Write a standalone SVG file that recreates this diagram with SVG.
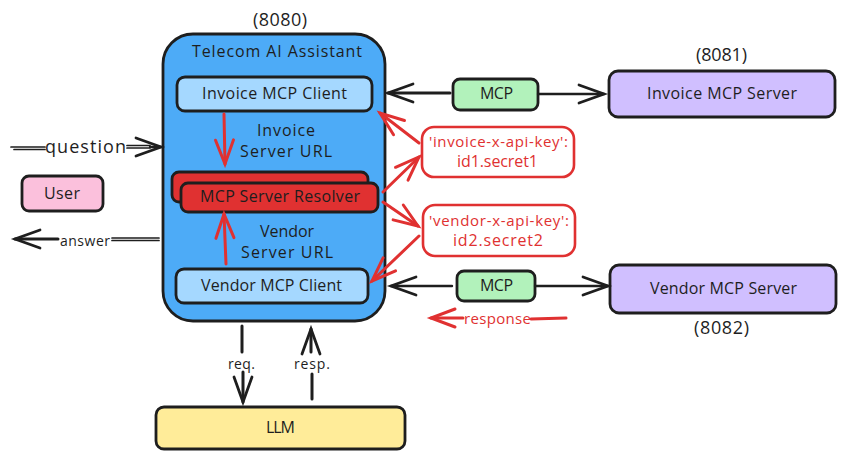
<svg xmlns="http://www.w3.org/2000/svg" width="846" height="458" viewBox="0 0 846 458">
<style>
text{font-family:"Open Sans","Liberation Sans",sans-serif;font-size:16px;fill:#1e1e1e;text-anchor:middle;dominant-baseline:central}
.n{stroke:#1e1e1e;stroke-width:2.8}
.c{fill:none;stroke:#1e1e1e;stroke-width:2.4;stroke-linecap:round}
.t{stroke-width:3}
.w{stroke-width:1.7}
.r{stroke:#e03131;stroke-width:2.6}
.e{fill:none;stroke:#e03131;stroke-width:3;stroke-linecap:round}
.ah{marker-end:url(#hk)}
.ar{marker-end:url(#hr)}
.rt{fill:#e03131}
.p{font-size:18px}
.s{font-size:14px}
</style>
<defs>
<marker id="hk" markerUnits="userSpaceOnUse" markerWidth="34" markerHeight="28" refX="28" refY="14" orient="auto"><path d="M3 5L28 14L3 23" fill="none" stroke="#1e1e1e" stroke-width="2.8" stroke-linecap="round"/></marker>
<marker id="hr" markerUnits="userSpaceOnUse" markerWidth="34" markerHeight="28" refX="28" refY="14" orient="auto"><path d="M4 5L28 14L4 23" fill="none" stroke="#e03131" stroke-width="3" stroke-linecap="round"/></marker>
</defs>
<g id="assistant"><rect class="n" x="163" y="34" width="222" height="287" rx="30" fill="#4dabf7"/><text x="277" y="51" textLength="170">Telecom AI Assistant</text><text class="p" x="280" y="19" textLength="54">(8080)</text></g>
<g id="invoice-client"><rect class="n" x="177" y="77" width="195" height="34" rx="8" fill="#a5d8ff"/><text x="274.5" y="93" textLength="145">Invoice MCP Client</text></g>
<g id="invoice-url"><text x="286" y="130" textLength="58">Invoice</text><text x="286" y="151" textLength="92">Server URL</text></g>
<g id="resolver-back"><rect class="n" x="172" y="172" width="196" height="30" rx="7" fill="#e03131"/></g>
<g id="resolver"><rect class="n" x="181" y="183" width="197" height="29" rx="7" fill="#e03131"/><text x="280" y="196" textLength="160">MCP Server Resolver</text></g>
<g id="vendor-url"><text x="287" y="231" textLength="54">Vendor</text><text x="287" y="252" textLength="92">Server URL</text></g>
<g id="vendor-client"><rect class="n" x="176" y="269" width="192" height="34" rx="8" fill="#a5d8ff"/><text x="271.5" y="285" textLength="141">Vendor MCP Client</text></g>
<g id="user"><rect class="n" x="22" y="176" width="81" height="35" rx="7" fill="#fbc0dc"/><text x="62" y="193" textLength="36">User</text></g>
<g id="llm"><rect class="n" x="156" y="407" width="249" height="42" rx="8" fill="#ffec99"/><text x="280.5" y="427" textLength="29">LLM</text></g>
<g id="mcp-1"><rect class="n" x="453" y="79" width="85" height="31" rx="7" fill="#b2f2bb"/><text x="496.5" y="93" textLength="33">MCP</text></g>
<g id="mcp-2"><rect class="n" x="457" y="271" width="78" height="30" rx="7" fill="#b2f2bb"/><text x="496.5" y="285" textLength="33">MCP</text></g>
<g id="invoice-server"><rect class="n" x="609" y="71" width="226" height="46" rx="9" fill="#d0bfff"/><text x="722" y="93" textLength="150">Invoice MCP Server</text><text class="p" x="721.5" y="54" textLength="51">(8081)</text></g>
<g id="vendor-server"><rect class="n" x="610" y="265" width="226" height="48" rx="9" fill="#d0bfff"/><text x="723.5" y="288" textLength="147">Vendor MCP Server</text><text class="p" x="721.5" y="327" textLength="55">(8082)</text></g>
<g id="invoice-key"><rect class="r" x="422" y="127" width="152" height="50" rx="12" fill="#fff"/><text class="rt" x="498.5" y="141" textLength="139" style="font-size:15px">'invoice-x-api-key':</text><text class="rt" x="497.5" y="161" textLength="81">id1.secret1</text></g>
<g id="vendor-key"><rect class="r" x="423" y="205" width="152" height="51" rx="12" fill="#fff"/><text class="rt" x="499" y="220" textLength="140" style="font-size:15px">'vendor-x-api-key':</text><text class="rt" x="498" y="240" textLength="90">id2.secret2</text></g>
<g id="connectors">
<path class="c w" d="M11 147H45M14 149.500H45"/><path class="c w" d="M127 145.500H150M127 148H150"/><path class="c ah" d="M150 147L161 147"/>
<path class="c w" d="M159 238H112M159 240.500H112"/><path class="c t ah" d="M58 239H15"/>
<path class="c t ah" d="M450 93H388"/><path class="c ah" d="M538 94H604"/>
<path class="c ah" d="M452 286H391"/><path class="c ah" d="M535 286H608"/>
<path class="c t" d="M242 326V352"/><path class="c t ah" d="M243 372V402"/>
<path class="c t ah" d="M311 352V329"/><path class="c t" d="M312 399V374"/>
<path class="e ar" d="M224 114L225 164"/>
<path class="e ar" d="M226 264L224 214"/>
<path class="e ar" d="M419 143L380 113"/>
<path class="e ar" d="M383 192L419 157"/>
<path class="e ar" d="M383 202L418 226"/>
<path class="e ar" d="M419 236L372 281"/>
<path class="e" d="M566 318L531 319"/>
<path class="e ar" d="M463 318H431"/>
</g>
<g id="labels">
<text x="85.5" y="146" textLength="81" style="font-size:18px">question</text>
<text class="s" x="85" y="240" textLength="50">answer</text>
<text class="s" x="241.5" y="363" textLength="27">req.</text>
<text class="s" x="312" y="363" textLength="36">resp.</text>
<text class="rt" x="497.500" y="318" textLength="67" style="font-size:15px">response</text>
</g>
</svg>
